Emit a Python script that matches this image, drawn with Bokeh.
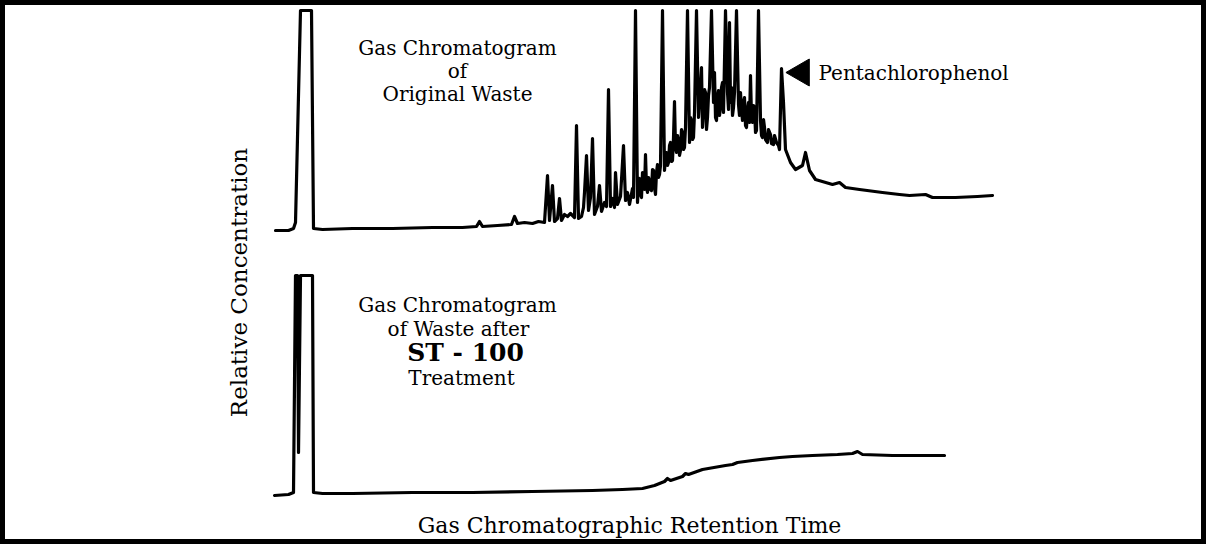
import math
from bokeh.plotting import figure
from bokeh.models import Range1d, Label
from bokeh.embed import file_html
from bokeh.resources import INLINE

# ---- data (retention time in chart units, pen response in chart units) ----
# Original waste chromatogram (tall peaks clipped at full scale = 217)
orig_time = [
    283, 296, 301, 303, 308, 319, 321, 330, 360, 400,
    440, 470, 484, 487, 490, 505, 519, 522, 525, 532,
    540, 546, 552, 555, 557, 560, 562, 565, 567, 569,
    572, 575, 578, 582, 584, 586, 589, 591, 592, 594,
    596, 598, 600, 602, 605, 607, 609, 612, 614, 616,
    618, 620, 622, 623, 625, 628, 631, 633, 635, 637,
    640, 641, 643, 645, 646, 647, 648, 649, 650, 651,
    652, 653, 654, 655, 656, 657, 658, 659, 660, 661,
    662, 663, 664, 665, 666, 667, 668, 670, 672, 673,
    674, 675, 676, 677, 678, 679, 680, 681, 682, 683,
    684, 685, 686, 687, 688, 689, 690, 691, 692, 693,
    695, 697, 698, 699, 700, 701, 702, 704, 706, 707,
    708, 709, 710, 711, 712, 713, 714, 715, 716, 717,
    719, 721, 722, 723, 724, 725, 726, 727, 728, 729,
    730, 731, 733, 735, 736, 737, 738, 739, 740, 741,
    742, 744, 746, 747, 748, 749, 750, 751, 752, 753,
    754, 755, 756, 757, 758, 759, 760, 761, 762, 763,
    764, 766, 768, 769, 770, 771, 772, 773, 775, 776,
    778, 779, 781, 782, 784, 786, 787, 789, 791, 793,
    798, 803, 810, 813, 817, 823, 840, 847, 853, 867,
    890, 907, 917, 933, 940, 963, 985, 1000,
]
orig_resp = [
    -3, -3, -1, 5, 217, 217, -1, -2, -1, -1,
    0, 0, 1, 6, 1, 2, 3, 11, 4, 5,
    4, 6, 5, 52, 7, 42, 6, 9, 29, 7,
    13, 11, 14, 10, 102, 9, 11, 20, 35, 72,
    17, 30, 89, 13, 21, 42, 16, 25, 21, 138,
    21, 29, 20, 55, 23, 31, 82, 27, 35, 23,
    39, 30, 217, 25, 45, 49, 33, 30, 55, 51,
    38, 73, 40, 35, 50, 47, 38, 37, 58, 57,
    40, 33, 55, 63, 50, 53, 62, 217, 57, 70,
    75, 62, 65, 82, 85, 66, 67, 90, 126, 80,
    75, 92, 87, 72, 77, 98, 95, 78, 80, 100,
    217, 85, 110, 107, 88, 90, 115, 217, 110, 128,
    140, 160, 100, 117, 138, 135, 98, 110, 132, 140,
    217, 125, 155, 110, 107, 130, 137, 112, 120, 140,
    145, 115, 217, 135, 118, 205, 125, 140, 112, 120,
    135, 217, 123, 112, 135, 118, 107, 125, 130, 102,
    100, 118, 125, 105, 152, 110, 105, 122, 120, 95,
    97, 217, 107, 92, 90, 108, 100, 88, 85, 98,
    93, 84, 83, 92, 85, 82, 78, 159, 125, 78,
    65, 58, 62, 75, 57, 48, 43, 45, 40, 38,
    35, 33, 32, 33, 30, 30, 31, 32,
]

# Waste after ST-100 treatment
treated_time = [
    282, 296, 301, 303, 305, 306, 308, 320, 321, 330,
    360, 420, 480, 540, 600, 630, 650, 662, 672, 675,
    678, 690, 693, 696, 710, 733, 740, 745, 760, 787,
    800, 820, 845, 860, 865, 870, 900, 930, 952,
]
treated_resp = [
    -3, -2, 0, 217, 217, 40, 217, 217, 0, -1,
    -1, 0, 0, 1, 2, 3, 4, 7, 11, 14,
    12, 16, 19, 18, 23, 27, 28, 30, 32, 35,
    36, 37, 38, 39, 41, 38, 37, 37, 37,
]

# marked compound
marker_name = "Pentachlorophenol"
marker_time = 789
marker_resp = 159

top_lines = ["Gas Chromatogram", "of", "Original Waste"]
bottom_lines = ["Gas Chromatogram", "of Waste after", "ST - 100", "Treatment"]
x_title = "Gas Chromatographic Retention Time"
y_title = "Relative Concentration"

# ---- layout ----
W, H = 1206, 544
OX, OY = 8, 8          # page offset of the figure


def sx(px):
    return px - OX


def sy(py):
    return (OY + H) - py


p = figure(width=W, height=H, output_backend="svg", toolbar_location=None,
           x_axis_type=None, y_axis_type=None,
           x_range=Range1d(OX, OX + W), y_range=Range1d(0, H),
           min_border=0)
p.grid.visible = False
p.background_fill_color = "white"
p.border_fill_color = "white"
p.outline_line_color = "black"
p.outline_line_width = 9

# each trace has its own vertical scale (1 unit = 1 px), baselines at different heights
top_base = sy(235)
bot_base = sy(500)
p.extra_y_ranges = {
    "top": Range1d(-top_base, H - top_base),
    "bottom": Range1d(-bot_base, H - bot_base),
}

p.line(orig_time, orig_resp, y_range_name="top", line_color="black",
       line_width=3.2, line_join="round", line_cap="round")
p.line(treated_time, treated_resp, y_range_name="bottom", line_color="black",
       line_width=3.2, line_join="round", line_cap="round")

# arrow marker for pentachlorophenol
p.scatter([marker_time + 20], [marker_resp - 4], y_range_name="top",
          marker="triangle", size=27, angle=math.pi / 2,
          fill_color="black", line_color="black")

FONT = "DejaVu Serif"


def add_label(text, x, y, size, align="center", angle=0.0, style="normal",
              baseline="middle", font=FONT):
    p.add_layout(Label(x=sx(x), y=sy(y), x_units="screen", y_units="screen",
                       text=text, text_font=font, text_font_size=f"{size}px",
                       text_font_style=style, text_align=align,
                       text_baseline=baseline, angle=angle, text_color="black"))


for txt, yy in zip(top_lines, [55, 78, 101]):
    add_label(txt, 465, yy, 20)

add_label(bottom_lines[0], 465, 312, 20)
add_label(bottom_lines[1], 466, 336, 20)
add_label(bottom_lines[2], 473, 360, 25, style="bold")
add_label(bottom_lines[3], 469, 385, 20)

add_label(marker_name, 826, 80, 20, align="left")

add_label(y_title, 246, 290, 23, angle=math.pi / 2)
add_label(x_title, 637, 533, 22, baseline="alphabetic")

open("out.html", "w").write(file_html(p, INLINE))
